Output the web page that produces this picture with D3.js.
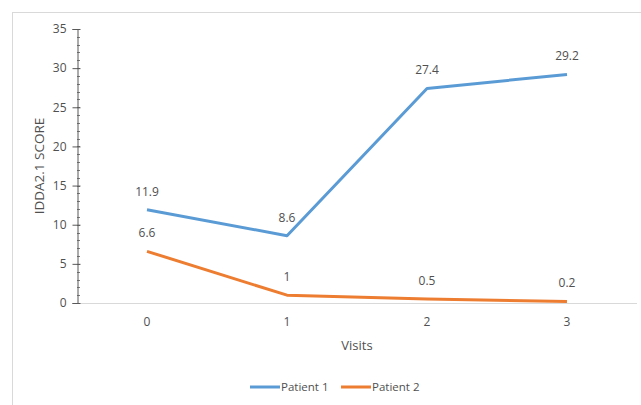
<!DOCTYPE html>
<html><head><meta charset="utf-8">
<script src="https://cdn.jsdelivr.net/npm/d3@7"></script>
<style>body{margin:0;background:#fff}svg{display:block}text{font-family:"Open Sans","Noto Sans",sans-serif;fill:#505050}</style>
</head><body>
<script>
const visits = ["0","1","2","3"];
const patient1 = [11.9, 8.6, 27.4, 29.2];
const patient2 = [6.6, 1, 0.5, 0.2];
const seriesNames = ["Patient 1", "Patient 2"];
const yTicks = [0,5,10,15,20,25,30,35];

const W=641,H=405;
const svg=d3.select("body").append("svg").attr("width",W).attr("height",H);
svg.append("rect").attr("x",12.5).attr("y",12.5).attr("width",700).attr("height",500)
  .attr("fill","none").attr("stroke","#d9d9d9");

const x=d3.scaleBand().domain(visits).range([77,637]);
const y=d3.scaleLinear().domain([0,35]).range([303,29]);

svg.append("line").attr("x1",77).attr("x2",637).attr("y1",y(0)+0.5).attr("y2",y(0)+0.5)
  .attr("stroke","#d9d9d9").attr("stroke-width",1.2);
svg.append("g").selectAll("text").data(visits).join("text")
  .attr("x",d=>x(d)+x.bandwidth()/2).attr("y",326).attr("text-anchor","middle")
  .attr("font-size",12).text(d=>d);

const minor=d3.range(0,36,1);
svg.append("g").selectAll("line").data(minor).join("line")
  .attr("x1",77).attr("x2",80).attr("y1",d=>Math.round(y(d))+0.5).attr("y2",d=>Math.round(y(d))+0.5)
  .attr("stroke","#595959").attr("stroke-width",0.8);
const yAxis=d3.axisLeft(y).tickValues(yTicks).tickSize(5).tickPadding(6);
const gy=svg.append("g").attr("transform","translate(77.5,0)").call(yAxis);
gy.select(".domain").attr("stroke","#595959");
gy.selectAll(".tick line").attr("stroke","#595959").attr("x2",-5).attr("x1",3);
gy.selectAll(".tick text").attr("font-size",12).attr("fill","#505050").attr("x",-11)
  .style("font-family",'"Open Sans","Noto Sans",sans-serif');

svg.append("text").attr("transform","translate(44,166) rotate(-90)").attr("text-anchor","middle")
  .attr("font-size",13.5).text("IDDA2.1 SCORE");
svg.append("text").attr("x",357).attr("y",350).attr("text-anchor","middle").attr("font-size",13).text("Visits");

const colors=["#5B9BD5","#ED7D31"];
const data=[patient1,patient2];
const line=d3.line().x((d,i)=>x(visits[i])+x.bandwidth()/2).y(d=>y(d));
data.forEach((s,k)=>{
  svg.append("path").datum(s).attr("d",line).attr("fill","none")
    .attr("stroke",colors[k]).attr("stroke-width",3).attr("stroke-linejoin","round");
});
data.forEach((s,k)=>{
  svg.append("g").selectAll("text").data(s).join("text")
    .attr("x",(d,i)=>x(visits[i])+x.bandwidth()/2).attr("y",d=>y(d)-14)
    .attr("text-anchor","middle").attr("font-size",12).text(d=>d);
});

const lg=[{x:250},{x:341}];
seriesNames.forEach((n,k)=>{
  svg.append("line").attr("x1",lg[k].x).attr("x2",lg[k].x+30).attr("y1",387).attr("y2",387)
    .attr("stroke",colors[k]).attr("stroke-width",3);
  svg.append("text").attr("x",lg[k].x+31).attr("y",391).attr("font-size",11.5).text(n);
});
</script>
</body></html>
